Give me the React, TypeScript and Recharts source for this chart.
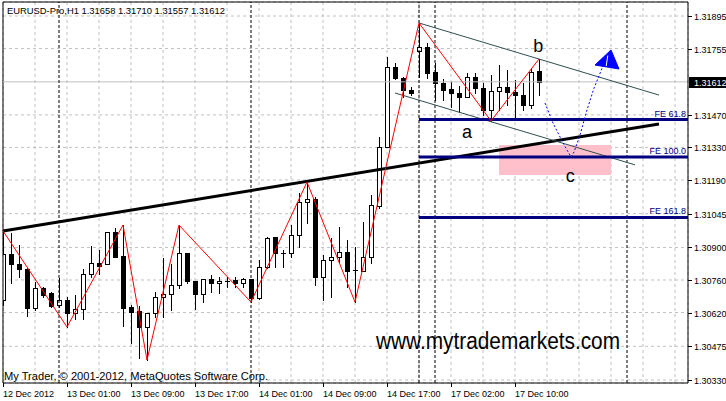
import React from 'react';
import {
  ComposedChart, Bar, Line, Area, XAxis, YAxis, CartesianGrid,
  ReferenceLine, ReferenceArea, ReferenceDot,
} from 'recharts';

// ---- OHLC data (EURUSD H1), bar index 0..67 ----
const opens = [
  1.30674, 1.30872, 1.30829, 1.30807, 1.30639, 1.30725, 1.30704, 1.30652, 1.30674, 1.30618,
  1.30635, 1.30786, 1.30833, 1.30829, 1.30966, 1.30863, 1.30644, 1.30627, 1.30558, 1.30618,
  1.30687, 1.30700, 1.30738, 1.30876, 1.30756, 1.30700, 1.30764, 1.30747, 1.30756, 1.30760,
  1.30747, 1.30764, 1.30682, 1.30816, 1.30945, 1.30876, 1.30876, 1.30953, 1.31095, 1.31108,
  1.30773, 1.30846, 1.30859, 1.30880, 1.30803, 1.30799, 1.30859, 1.31078, 1.31332, 1.31676,
  1.31628, 1.31577, 1.31744, 1.31762, 1.31654, 1.31607, 1.31581, 1.31564, 1.31547, 1.31633,
  1.31585, 1.31491, 1.31573, 1.31590, 1.31568, 1.31555, 1.31512, 1.31658,
];
const highs = [
  1.30971, 1.30962, 1.30910, 1.30811, 1.30751, 1.30730, 1.30708, 1.30768, 1.30687, 1.30695,
  1.30807, 1.30906, 1.30889, 1.30968, 1.30983, 1.30996, 1.30652, 1.30648, 1.30618, 1.30708,
  1.30854, 1.30829, 1.30996, 1.30876, 1.30756, 1.30764, 1.30781, 1.30773, 1.30773, 1.30773,
  1.30768, 1.30764, 1.30846, 1.30945, 1.30945, 1.30889, 1.30996, 1.31134, 1.31181, 1.31117,
  1.30867, 1.30940, 1.30988, 1.30932, 1.30902, 1.31009, 1.31125, 1.31375, 1.31719, 1.31693,
  1.31633, 1.31590, 1.31865, 1.31779, 1.31693, 1.31624, 1.31611, 1.31594, 1.31650, 1.31650,
  1.31607, 1.31641, 1.31684, 1.31663, 1.31620, 1.31607, 1.31671, 1.31710,
];
const lows = [
  1.30652, 1.30747, 1.30773, 1.30605, 1.30631, 1.30687, 1.30644, 1.30644, 1.30558, 1.30592,
  1.30592, 1.30773, 1.30786, 1.30827, 1.30859, 1.30562, 1.30489, 1.30424, 1.30416, 1.30601,
  1.30601, 1.30631, 1.30725, 1.30747, 1.30635, 1.30665, 1.30708, 1.30704, 1.30730, 1.30730,
  1.30730, 1.30665, 1.30680, 1.30811, 1.30816, 1.30816, 1.30859, 1.30902, 1.31005, 1.30738,
  1.30674, 1.30687, 1.30837, 1.30730, 1.30665, 1.30797, 1.30833, 1.31069, 1.31330, 1.31624,
  1.31547, 1.31555, 1.31633, 1.31628, 1.31534, 1.31534, 1.31504, 1.31482, 1.31545, 1.31564,
  1.31469, 1.31444, 1.31491, 1.31512, 1.31456, 1.31491, 1.31499, 1.31557,
];
const closes = [
  1.30872, 1.30829, 1.30807, 1.30639, 1.30725, 1.30695, 1.30648, 1.30674, 1.30618, 1.30635,
  1.30786, 1.30833, 1.30820, 1.30966, 1.30859, 1.30639, 1.30622, 1.30558, 1.30618, 1.30687,
  1.30700, 1.30738, 1.30876, 1.30756, 1.30700, 1.30764, 1.30747, 1.30756, 1.30756, 1.30747,
  1.30764, 1.30682, 1.30816, 1.30940, 1.30876, 1.30876, 1.30953, 1.31095, 1.31108, 1.30773,
  1.30846, 1.30859, 1.30880, 1.30799, 1.30803, 1.30859, 1.31082, 1.31332, 1.31676, 1.31628,
  1.31577, 1.31564, 1.31762, 1.31650, 1.31607, 1.31577, 1.31564, 1.31547, 1.31633, 1.31585,
  1.31491, 1.31573, 1.31590, 1.31568, 1.31555, 1.31512, 1.31654, 1.31612,
];

// ---- axis labels ----
const xLabelBars = [0, 8, 16, 24, 32, 40, 48, 56, 64];
const xLabels = [
  '12 Dec 2012', '13 Dec 01:00', '13 Dec 09:00', '13 Dec 17:00', '14 Dec 01:00',
  '14 Dec 09:00', '14 Dec 17:00', '17 Dec 02:00', '17 Dec 10:00',
];
const xGridBars = [0, 4, 8, 12, 16, 20, 24, 28, 32, 36, 40, 44, 48, 52, 56, 60, 64, 68, 72, 76, 80, 84];
const yTicks = [1.31895, 1.31755, 1.3147, 1.3133, 1.3119, 1.31045, 1.309, 1.3076, 1.3062, 1.30475, 1.3033];
const bidPrice = 1.31612;
const separatorBars = [7, 31, 52, 54, 78];

// ---- analysis objects ----
const zigzagBars = [0, 8, 15, 18, 22, 31, 38, 44, 52, 61, 67];
const zigzagIsHigh = [true, false, true, false, true, false, true, false, true, false, true];
const trendLine = [{ x: 0, y: 1.30971 }, { x: 82, y: 1.31431 }];
const channelUpper = [{ x: 52, y: 1.31865 }, { x: 82, y: 1.31555 }];
const channelLower = [{ x: 49, y: 1.31564 }, { x: 79, y: 1.31255 }];
const feLevels = [1.3145, 1.31289, 1.31029];
const feNames = ['FE 61.8', 'FE 100.0', 'FE 161.8'];
const feStartBar = 52;
const zoneBars = [62, 76];
const zonePrices = [1.31211, 1.3134];
const pathBars = [67.75, 68.75, 69.875, 70.5, 71, 71.375, 72.125, 73, 73.875, 75];
const pathPrices = [1.31521, 1.31435, 1.31358, 1.31319, 1.31289, 1.3131, 1.31383, 1.31491, 1.31585, 1.3168];
const arrowBars = [74, 76, 77];
const arrowLower = [1.31684, 1.31673, 1.31667];
const arrowUpper = [1.31684, 1.31749, 1.31667];
const notchBars = [75.6, 75.4];
const notchPrices = [1.31725, 1.3168];
const waveLetters = ['a', 'b', 'c'];
const waveBars = [58, 66.9, 70.9];
const wavePrices = [1.3137, 1.3174, 1.31181];

const X_MAX = 85.625;
const Y_MIN = 1.303171;
const Y_MAX = 1.319552;
const FONT = "'Liberation Sans', Arial, sans-serif";

const candles = opens.map((o, i) => ({
  x: i, open: o, high: highs[i], low: lows[i], close: closes[i], range: [lows[i], highs[i]],
}));
const zigzag = zigzagBars.map((b, i) => ({ x: b, y: zigzagIsHigh[i] ? highs[b] : lows[b] }));
const path = pathBars.map((b, i) => ({ x: b, y: pathPrices[i] }));
const arrow = arrowBars.map((b, i) => ({ x: b, r: [arrowLower[i], arrowUpper[i]] }));
const notch = notchBars.map((b, i) => ({ x: b, y: notchPrices[i] }));

const Candle = (props: any) => {
  const { x, y, width, height, payload } = props;
  if (x == null || y == null || !payload) return null;
  const cx = Math.round(x + width / 2);
  const hi = payload.high, lo = payload.low;
  const py = (p: number) => y + ((hi - p) / (hi - lo)) * height;
  const yo = py(payload.open), yc = py(payload.close);
  const top = Math.round(Math.min(yo, yc));
  const bot = Math.round(Math.max(yo, yc));
  const bull = payload.close > payload.open;
  const wick = (
    <line x1={cx + 0.5} x2={cx + 0.5} y1={Math.round(y)} y2={Math.round(y + height) + 1} stroke="#000" strokeWidth={1} />
  );
  if (bot - top < 1) {
    return (
      <g>
        {wick}
        <line x1={cx - 2} x2={cx + 3} y1={top + 0.5} y2={top + 0.5} stroke="#000" strokeWidth={1} />
      </g>
    );
  }
  return (
    <g>
      {wick}
      {bull ? (
        <rect x={cx - 1.5} y={top + 0.5} width={4} height={bot - top} fill="#fff" stroke="#000" strokeWidth={1} />
      ) : (
        <rect x={cx - 2} y={top} width={5} height={bot - top + 1} fill="#000" />
      )}
    </g>
  );
};

const XTick = (props: any) => {
  const { x, y, payload } = props;
  const idx = xLabelBars.indexOf(payload.value);
  if (idx < 0) return null;
  const px = Math.round(x);
  return (
    <g>
      <line x1={px + 0.5} x2={px + 0.5} y1={y} y2={y + 4} stroke="#000" />
      <text x={px} y={y + 14} fontSize={9} fontFamily={FONT} fill="#000" textAnchor="start">
        {xLabels[idx]}
      </text>
    </g>
  );
};

const YTick = (props: any) => {
  const { x, y, payload } = props;
  const py = Math.round(y);
  return (
    <g>
      <line x1={x} x2={x + 4} y1={py + 0.5} y2={py + 0.5} stroke="#000" />
      <text x={x + 6} y={py + 4} fontSize={9} fontFamily={FONT} fill="#000" textAnchor="start">
        {payload.value.toFixed(5)}
      </text>
    </g>
  );
};

const pointText = (text: string, opts: { dx: number; dy: number; size: number; color: string; anchor: string }) =>
  (props: any) => {
    const vb = props.viewBox || {};
    const cx = (vb.x ?? 0) + (vb.width ?? 0) / 2;
    const cy = (vb.y ?? 0) + (vb.height ?? 0) / 2;
    return (
      <text x={cx + opts.dx} y={cy + opts.dy} fontSize={opts.size} fontFamily={FONT} fill={opts.color}
        textAnchor={opts.anchor as any}>
        {text}
      </text>
    );
  };

const BidLabel = (props: any) => {
  const vb = props.viewBox || {};
  const right = (vb.x ?? 0) + (vb.width ?? 0);
  const ly = Math.round(vb.y ?? 0);
  return (
    <g>
      <rect x={right + 1} y={ly - 5} width={38} height={11} fill="#000" />
      <text x={right + 6} y={ly + 4} fontSize={9} fontFamily={FONT} fill="#fff">{bidPrice.toFixed(5)}</text>
    </g>
  );
};

export default function App() {
  return (
    <div style={{ position: 'fixed', left: 0, top: 0, width: 726, height: 401, background: '#fff' }}>
      <ComposedChart
        width={726}
        height={401}
        data={candles}
        margin={{ top: 2, right: 0, bottom: 0, left: 3 }}
      >
        <CartesianGrid stroke="#c0c0c0" strokeDasharray="3 3" />
        <XAxis
          dataKey="x" type="number" domain={[0, X_MAX]} allowDataOverflow ticks={xGridBars}
          height={18} tickSize={0} tickMargin={0} tickLine={false} axisLine={{ stroke: '#000' }}
          tick={<XTick />} interval={0}
        />
        <YAxis
          type="number" orientation="right" domain={[Y_MIN, Y_MAX]} allowDataOverflow ticks={yTicks}
          width={38} tickSize={0} tickMargin={0} tickLine={false} axisLine={{ stroke: '#000' }}
          tick={<YTick />} interval={0}
        />
        <ReferenceLine x={0} stroke="#000" />
        <ReferenceLine y={Y_MAX} stroke="#000" />
        <ReferenceLine y={bidPrice} stroke="#c0c0c0" label={<BidLabel />} />
        {separatorBars.map((b) => (
          <ReferenceLine key={'sep' + b} x={b} stroke="#000" strokeDasharray="3 2" />
        ))}
        <ReferenceArea x1={zoneBars[0]} x2={zoneBars[1]} y1={zonePrices[0]} y2={zonePrices[1]}
          fill="#ffc0cb" fillOpacity={1} stroke="none" />
        <Bar dataKey="range" barSize={5} shape={<Candle />} isAnimationActive={false} />
        <ReferenceLine segment={trendLine} stroke="#000" strokeWidth={3} />
        <ReferenceLine segment={channelUpper} stroke="#2f4f4f" strokeWidth={1} />
        <ReferenceLine segment={channelLower} stroke="#2f4f4f" strokeWidth={1} />
        {feLevels.map((v, i) => (
          <ReferenceLine key={'fe' + i} segment={[{ x: feStartBar, y: v }, { x: X_MAX, y: v }]}
            stroke="#000080" strokeWidth={3} />
        ))}
        {feLevels.map((v, i) => (
          <ReferenceDot key={'fel' + i} x={X_MAX} y={v} r={1} fill="none" stroke="none"
            label={pointText(feNames[i], { dx: -2, dy: -3, size: 9, color: '#000080', anchor: 'end' })} />
        ))}
        <Line data={zigzag} dataKey="y" type="linear" stroke="#ff0000" strokeWidth={1} dot={false}
          activeDot={false} isAnimationActive={false} />
        <Line data={path} dataKey="y" type="linear" stroke="#0000ff" strokeWidth={1} strokeDasharray="2 2"
          dot={false} activeDot={false} isAnimationActive={false} />
        <Area data={arrow} dataKey="r" type="linear" stroke="#0000ff" fill="#0000ff" fillOpacity={1}
          isAnimationActive={false} dot={false} activeDot={false} />
        <Line data={notch} dataKey="y" type="linear" stroke="#ffffff" strokeWidth={1} dot={false}
          activeDot={false} isAnimationActive={false} />
        {waveLetters.map((t, i) => (
          <ReferenceDot key={'w' + t} x={waveBars[i]} y={wavePrices[i]} r={1} fill="none" stroke="none"
            label={pointText(t, { dx: 0, dy: 0, size: 18, color: '#000', anchor: 'middle' })} />
        ))}
      </ComposedChart>
      <svg width={726} height={401} style={{ position: 'absolute', left: 0, top: 0, pointerEvents: 'none' }}>
        <text x={7} y={13.5} fontSize={9} fontFamily={FONT} fill="#000" textLength={218} lengthAdjust="spacingAndGlyphs">
          EURUSD-Pro,H1  1.31658 1.31710 1.31557 1.31612
        </text>
        <text x={4} y={380} fontSize={11} fontFamily={FONT} fill="#000" textLength={264} lengthAdjust="spacingAndGlyphs">
          My Trader, © 2001-2012, MetaQuotes Software Corp.
        </text>
        <text x={376} y={349} fontSize={23} fontFamily={FONT} fill="#000" textLength={244} lengthAdjust="spacingAndGlyphs">
          www.mytrademarkets.com
        </text>
      </svg>
    </div>
  );
}
